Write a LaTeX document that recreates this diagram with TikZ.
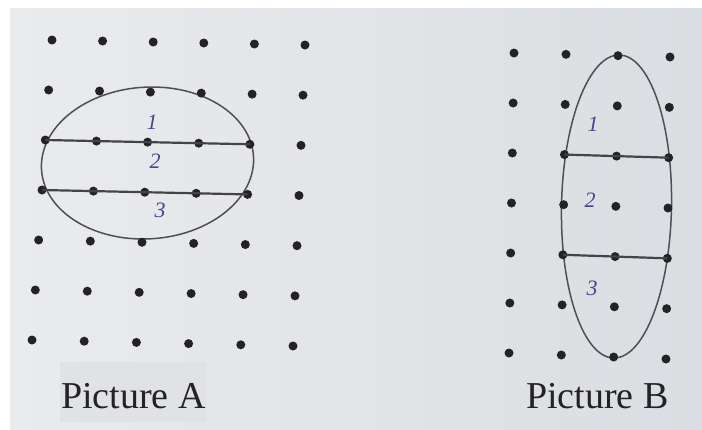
\documentclass[tikz,border=0pt]{standalone}
\usepackage{fontspec}
\setmainfont{Liberation Serif}
\definecolor{paperL}{RGB}{234,235,237}
\definecolor{paperR}{RGB}{218,221,225}
\definecolor{ink}{RGB}{35,35,38}
\definecolor{pen}{RGB}{70,70,140}
\definecolor{capbg}{RGB}{224,226,229}
\tikzset{
  gdot/.style={circle,fill=ink,draw=none,inner sep=0pt,minimum size=9pt},
  seg/.style={draw=ink!85,line width=2.2pt},
  ell/.style={draw=ink!80,line width=1.5pt},
  num/.style={text=pen,font=\itshape\fontsize{22}{22}\selectfont,inner sep=0pt},
  captext/.style={text=ink,font=\fontsize{38}{40}\selectfont,inner sep=0pt,anchor=base west}
}
\begin{document}
\begin{tikzpicture}[x=1pt,y=-1pt]
\useasboundingbox (0,0) rectangle (702,429);
\fill[white] (0,0) rectangle (702,429);
\shade[left color=paperL,right color=paperR] (10,8) rectangle (702,429);
\fill[capbg] (60,362) rectangle (207,422);
% ellipses
\begin{scope}[shift={(147.5,163)},xslant=0.06]
  \draw[ell] (0,0) ellipse [x radius=106,y radius=76];
\end{scope}
\begin{scope}[shift={(616.5,206.5)},xslant=0.0165]
  \draw[ell] (0,0) ellipse [x radius=55,y radius=151.5];
\end{scope}
% grid A
\foreach \c in {0,...,5}{
  \foreach \r in {0,...,6}{
    \pgfmathsetmacro{\px}{(1-\r/6)*(52+50.6*\c)+(\r/6)*(32+52.2*\c)}
    \pgfmathsetmacro{\py}{40+50*\r+(\c/5)*(5+\r/6)}
    \node[gdot] (A-\c-\r) at (\px,\py) {};
  }
}
% grid B
\foreach \c in {0,...,3}{
  \foreach \r in {0,...,6}{
    \pgfmathsetmacro{\px}{(1-\r/6)*(514+52*\c)+(\r/6)*(509+52.33*\c)}
    \pgfmathsetmacro{\py}{53+50*\r+(\c/3)*(4+2*\r/6)}
    \node[gdot] (B-\c-\r) at (\px,\py) {};
  }
}
% segments
\draw[seg] (A-0-2.center) -- (A-4-2.center);
\draw[seg] (A-0-3.center) -- (A-4-3.center);
\draw[seg] (B-1-2.center) -- (B-3-2.center);
\draw[seg] (B-1-4.center) -- (B-3-4.center);
% handwritten numbers
\node[num] (a1) at (152,122) {1};
\node[num] (a2) at (155,161) {2};
\node[num] (a3) at (160,210) {3};
\node[num] (b1) at (593,124) {1};
\node[num] (b2) at (590,200) {2};
\node[num] (b3) at (592,288) {3};
% captions
\node[captext] (capA) at (61,408) {Picture A};
\node[captext] (capB) at (526,408) {Picture B};
\end{tikzpicture}
\end{document}
